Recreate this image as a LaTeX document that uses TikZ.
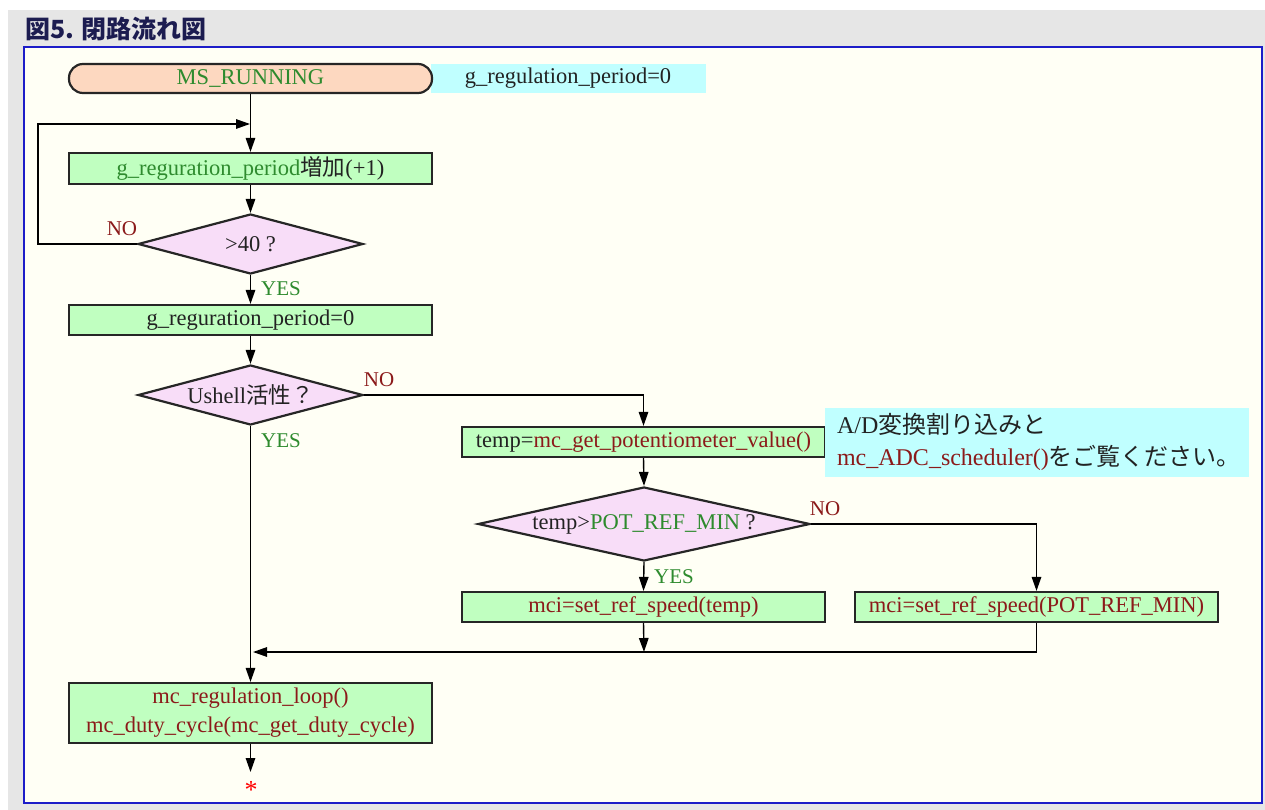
\documentclass[tikz,border=0pt]{standalone}
\usepackage{fontspec}
\setmainfont{Liberation Serif}
\newfontfamily\jp{Noto Sans CJK JP}
\usetikzlibrary{shapes.geometric,arrows.meta}
\definecolor{pagegray}{HTML}{E6E6E6}
\definecolor{panelbg}{HTML}{FFFFF5}
\definecolor{panelblue}{HTML}{1C1CC8}
\definecolor{titleink}{HTML}{1C1C50}
\definecolor{txtdark}{HTML}{222222}
\definecolor{txtgreen}{HTML}{2E8B2E}
\definecolor{txtred}{HTML}{8B1A1A}
\definecolor{boxgreen}{HTML}{C0FFC0}
\definecolor{decpink}{HTML}{F8DDF8}
\definecolor{startpeach}{HTML}{FDD8C0}
\definecolor{notecyan}{HTML}{C0FFFF}
\begin{document}
\begin{tikzpicture}[x=1pt,y=-1pt,
  font=\fontsize{22.5}{29}\selectfont,
  procbox/.style={draw=black!85, line width=2.2pt, fill=boxgreen,
    minimum width=363pt, minimum height=30pt, inner sep=0pt,
    align=center, text=txtdark},
  decision/.style={diamond, draw=black!85, line width=2.2pt, fill=decpink,
    inner sep=0pt, text=txtdark},
  flow/.style={line width=1.4pt, -{Triangle[length=14pt,width=9.5pt]}},
  nolabel/.style={text=txtred, font=\fontsize{21}{24}\selectfont, inner sep=0pt},
  yeslabel/.style={text=txtgreen, font=\fontsize{21}{24}\selectfont, inner sep=0pt},
  cyanbox/.style={fill=notecyan, inner sep=0pt, text=txtdark}]
\useasboundingbox (0,0) rectangle (1265,810);

% page frame and title bar
\fill[white] (0,0) rectangle (1265,810);
\fill[pagegray] (8,10) rectangle (1265,810);
\node[anchor=west, text=titleink, font=\jp\bfseries\fontsize{25}{28}\selectfont, inner sep=0pt]
  (title) at (25,29) {図5. 閉路流れ図};
\draw[panelblue, line width=1.6pt, fill=panelbg] (24,47) rectangle (1262,803);

% start terminal with its note
\node[cyanbox, minimum width=275pt, minimum height=29pt] (gpnote) at (568,78.5)
  {\raisebox{-1.5pt}{g\_regulation\_period=0}};
\node[draw=black!85, line width=2.2pt, fill=startpeach, rounded corners=14pt,
  minimum width=363pt, minimum height=29pt, inner sep=0pt, text=txtgreen]
  (ms) at (250.5,78.5) {\raisebox{-1.5pt}{MS\_RUNNING}};

% main column
\node[procbox, minimum height=31pt] (b1) at (250.5,168.5)
  {\textcolor{txtgreen}{g\_reguration\_period}{\jp 増加}(+1)};
\node[decision, aspect=3.75, minimum width=225pt, minimum height=60pt] (d1) at (250.5,244) {>40 ?};
\node[procbox] (b2) at (250.5,320) {g\_reguration\_period=0};
\node[decision, aspect=3.75, minimum width=225pt, minimum height=60pt] (d2) at (250.5,395)
  {Ushell{\jp 活性？}};
\node[procbox, minimum height=60pt, text=txtred] (b5) at (250.5,713)
  {mc\_regulation\_loop()\\mc\_duty\_cycle(mc\_get\_duty\_cycle)};
\node[text=red, font=\fontsize{26}{26}\selectfont, inner sep=0pt] (star) at (251,790) {*};

% potentiometer branch
\node[procbox] (b3) at (643.5,442)
  {temp=\textcolor{txtred}{mc\_get\_potentiometer\_value()}};
\node[cyanbox, minimum width=424pt, minimum height=69pt, text width=400pt,
  inner xsep=12pt, align=left, font=\fontsize{24}{32}\selectfont] (adnote) at (1037,442)
  {A/D{\jp 変換割り込みと}\\\textcolor{txtred}{mc\_ADC\_scheduler()}{\jp をご覧ください。}};
\node[decision, aspect=4.5, minimum width=332pt, minimum height=74pt] (d3) at (644,524)
  {temp>\textcolor{txtgreen}{POT\_REF\_MIN} ?};
\node[procbox, text=txtred] (b4a) at (643.5,607) {mci=set\_ref\_speed(temp)};
\node[procbox, text=txtred] (b4b) at (1036.5,607) {mci=set\_ref\_speed(POT\_REF\_MIN)};

% branch labels
\node[nolabel] (no1) at (122,229) {NO};
\node[yeslabel] (yes1) at (281,289) {YES};
\node[nolabel] (no2) at (379,380) {NO};
\node[yeslabel] (yes2) at (281,441) {YES};
\node[nolabel] (no3) at (825,509) {NO};
\node[yeslabel] (yes3) at (674,577) {YES};

% connectors
\coordinate (loopin) at (250,124);
\coordinate (join) at (644,652);
\coordinate (merge) at (253,652);
\coordinate (endtip) at (250.5,772);
\draw[flow] (ms.south) -- (b1.north);
\draw[flow] (b1.south) -- (d1.north);
\draw[flow] (d1.west) -- ++(-99,0) |- (loopin);
\draw[flow] (d1.south) -- (b2.north);
\draw[flow] (b2.south) -- (d2.north);
\draw[flow] (d2.east) -| (b3.north);
\draw[flow] (d2.south) -- (b5.north);
\draw[flow] (b3.south) -- (d3.north);
\draw[flow] (d3.east) -| (b4b.north);
\draw[flow] (d3.south) -- (b4a.north);
\draw[flow] (b4a.south) -- (join);
\draw[flow] (b4b.south) |- (merge);
\draw[flow] (b5.south) -- (endtip);
\end{tikzpicture}
\end{document}
